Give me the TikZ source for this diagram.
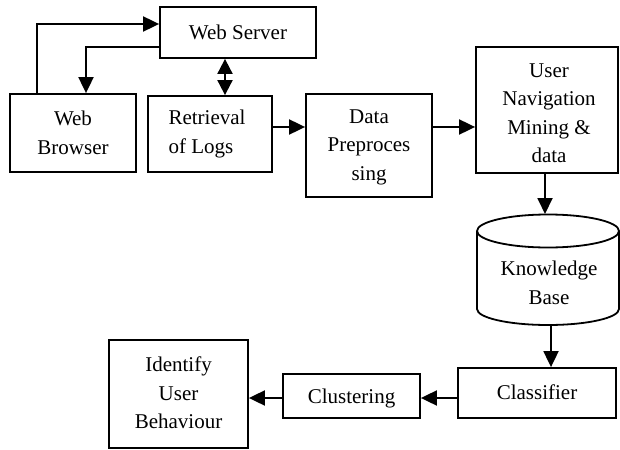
\documentclass[tikz,border=0pt]{standalone}
\usepackage{fontspec}
\setmainfont{Liberation Serif}
\usetikzlibrary{arrows.meta}
\begin{document}
\begin{tikzpicture}[x=1pt,y=-1pt,
  font=\fontsize{21}{28.5}\selectfont,
  box/.style={draw,line width=1.8pt},
  lbl/.style={align=center,inner sep=0pt},
  arr/.style={line width=1.9pt,-{Triangle[length=16pt,width=15pt]}},
  darr/.style={line width=1.9pt,{Triangle[length=15pt,width=15pt]}-{Triangle[length=15pt,width=15pt]}}]
\useasboundingbox (0,0) rectangle (620,449);
% boxes
\node[box,minimum width=156pt,minimum height=51pt,inner sep=0pt] (ws) at (238,32.5) {};
\node[lbl] at (238,32) {Web Server};
\node[box,minimum width=126pt,minimum height=78pt,inner sep=0pt] (wb) at (73,133) {};
\node[lbl] at (73,133) {Web\\Browser};
\node[box,minimum width=124pt,minimum height=76pt,inner sep=0pt] (rl) at (210,134) {};
\node[lbl,align=left] at (207,134) {Retrieval\\of Logs};
\node[box,minimum width=126pt,minimum height=103pt,inner sep=0pt] (dp) at (369,145.5) {};
\node[lbl] at (369,147) {Data\\Preproces\\sing};
\node[box,minimum width=142pt,minimum height=126pt,inner sep=0pt] (un) at (547,110) {};
\node[lbl] at (549,113) {User\\Navigation\\Mining \&\\data};
% cylinder
\draw[box] (477,231) arc[start angle=180,end angle=-180,x radius=71,y radius=16.5]
  (477,231) -- (477,309) arc[start angle=180,end angle=0,x radius=71,y radius=16] -- (619,231);
\node[minimum width=142pt,minimum height=110pt,inner sep=0pt] (kb) at (548,270) {};
\node[lbl] at (549,283) {Knowledge\\Base};
\node[box,minimum width=158pt,minimum height=50pt,inner sep=0pt] (cl) at (537,393) {};
\node[lbl] at (537,392) {Classifier};
\node[box,minimum width=137pt,minimum height=44pt,inner sep=0pt] (cu) at (351.5,396) {};
\node[lbl] at (351.5,398) {Clustering};
\node[box,minimum width=139pt,minimum height=108pt,inner sep=0pt] (ib) at (178.5,394) {};
\node[lbl] at (178.5,393) {Identify\\User\\Behaviour};
% connectors
\draw[arr] (wb.north west) ++(28,0) |- (ws.west |- 0,24);
\draw[arr] (ws.west |- 0,47) -| (wb.north -| 86,0);
\draw[darr] (ws.south -| 225,0) -- (rl.north -| 225,0);
\draw[arr] (rl.east |- 0,127) -- (dp.west |- 0,127);
\draw[arr] (dp.east |- 0,127) -- (un.west |- 0,127);
\draw[arr] (un.south -| 545,0) -- (545,214);
\draw[arr] (551,325) -- (cl.north -| 551,0);
\draw[arr] (cl.west |- 0,398) -- (cu.east |- 0,398);
\draw[arr] (cu.west |- 0,398) -- (ib.east |- 0,398);
\end{tikzpicture}
\end{document}
